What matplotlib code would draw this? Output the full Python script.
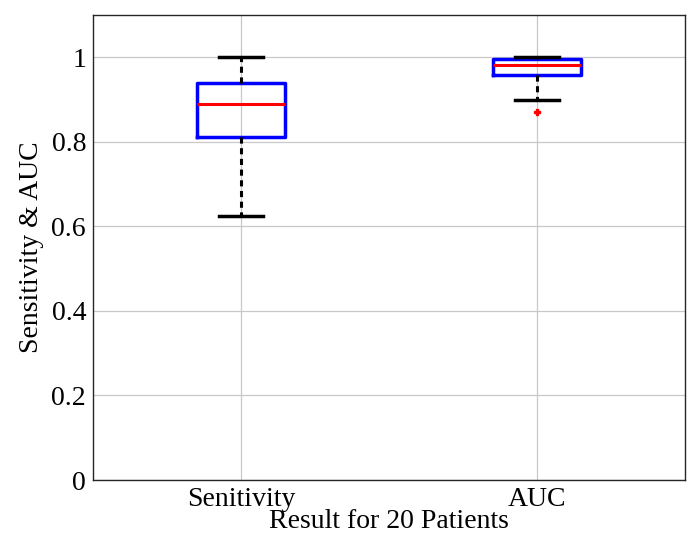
import numpy as np
import matplotlib.pyplot as plt

# values
labels = ['Senitivity', 'AUC']
whislo = [0.625, 0.898]
q1 = [0.812, 0.957]
med = [0.890, 0.981]
q3 = [0.939, 0.995]
whishi = [1.0, 1.0]
fliers = [[], [0.871]]

plt.rcParams['font.family'] = ['Liberation Serif', 'DejaVu Serif']

stats = []
for i in range(len(labels)):
    stats.append({'label': labels[i], 'whislo': whislo[i], 'q1': q1[i], 'med': med[i],
                  'q3': q3[i], 'whishi': whishi[i], 'fliers': fliers[i]})

fig = plt.figure(figsize=(6.97, 5.44), dpi=100)
ax = fig.add_axes([0.1334, 0.1176, 0.8494, 0.8548])

ax.bxp(stats, positions=[1, 2], widths=0.3,
       boxprops=dict(color='blue', linewidth=2.5),
       medianprops=dict(color='red', linewidth=2.2),
       whiskerprops=dict(color='black', linewidth=2.2, linestyle=(0, (2, 1.5))),
       capprops=dict(color='black', linewidth=2.5),
       flierprops=dict(marker='P', markerfacecolor='red', markeredgecolor='red', markersize=5))

ax.set_xlim(0.5, 2.5)
ax.set_ylim(0, 1.1)
ax.set_yticks([0, 0.2, 0.4, 0.6, 0.8, 1.0])
ax.set_yticklabels(['0', '0.2', '0.4', '0.6', '0.8', '1'])
ax.grid(True, color='#c8c8c8', linewidth=0.9)
ax.set_axisbelow(True)
ax.tick_params(length=0, labelsize=20, pad=5)
for s in ax.spines.values():
    s.set_color('#262626')
    s.set_linewidth(1.0)

ax.set_xlabel('Result for 20 Patients', fontsize=20, labelpad=-2)
ax.set_ylabel('Sensitivity & AUC', fontsize=20, labelpad=5)

fig.savefig('out.png', dpi=100)
